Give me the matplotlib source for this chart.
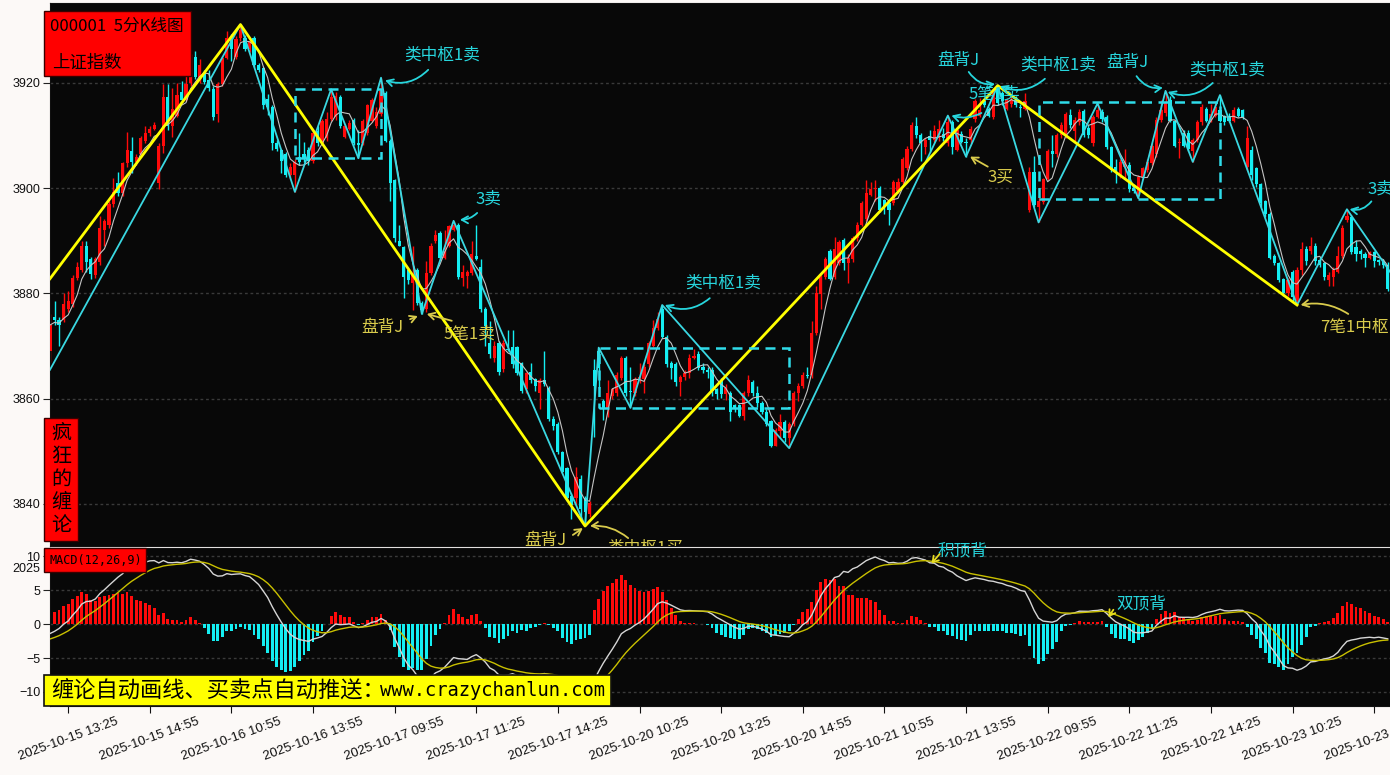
import numpy as np
import pandas as pd
import matplotlib
matplotlib.use("Agg")
import matplotlib.pyplot as plt
from matplotlib.patches import Rectangle

plt.rcParams['font.family'] = ['Noto Sans CJK SC', 'DejaVu Sans']

# ---------------- data: 5-minute bars of 000001 (index 0 is the partly hidden first bar)
opens = [
 3869, 3875.5, 3875, 3875, 3877, 3878, 3883, 3884.5, 3889, 3886.5,
 3883.5, 3886, 3892, 3893, 3897, 3901, 3899, 3904.8, 3907, 3905,
 3906.5, 3909, 3910.5, 3911.3, 3901, 3908, 3917.3, 3911.8, 3913.8, 3918.3,
 3916.8, 3920, 3925, 3921, 3922.1, 3920.6, 3918.8, 3914.1, 3919.8, 3924.8,
 3929, 3925, 3928.5, 3928.5, 3926.5, 3928.5, 3923.5, 3922.8, 3917, 3915.5,
 3908.5, 3907.3, 3906.5, 3902.5, 3902.5, 3906, 3906.5, 3907.3, 3905.1, 3910.8,
 3908.5, 3909.5, 3913.1, 3913.5, 3917.3, 3909.8, 3911.3, 3913, 3908.5, 3908.5,
 3910.5, 3912.8, 3911.8, 3914.1, 3918, 3909, 3901.5, 3890, 3888.8, 3884.5,
 3882, 3884.5, 3878.1, 3877.1, 3883.8, 3890, 3891.5, 3886.8, 3889.1, 3892.1,
 3893.1, 3883, 3883.3, 3883.8, 3887.1, 3885.1, 3877.1, 3870.5, 3867.8, 3870.5,
 3865.6, 3869.5, 3869.8, 3869.8, 3866.8, 3861.8, 3865.1, 3863.8, 3861, 3863.5,
 3862.1, 3856.1, 3855.1, 3849.8, 3846.8, 3841.5, 3841.1, 3844.8, 3841.1, 3838.1,
 3865.5, 3869, 3859.5, 3858.1, 3860.5, 3861.1, 3864, 3867.8, 3861.5, 3861.1,
 3863.5, 3863.8, 3866.5, 3870.1, 3873.5, 3877.1, 3871.8, 3866.8, 3866.5, 3863.1,
 3864.1, 3864.8, 3867.8, 3868.5, 3866, 3865.5, 3865.5, 3861.8, 3863.5, 3860.8,
 3861.1, 3858.8, 3858.8, 3856.8, 3861.1, 3863.1, 3861.1, 3859.1, 3857.5, 3855.8,
 3851.1, 3853.8, 3855.5, 3852.5, 3855.1, 3861.1, 3862.5, 3864.5, 3864.5, 3872.5,
 3879.8, 3883.1, 3888.1, 3883.1, 3885.8, 3890.1, 3885.8, 3886.5, 3890.5, 3893.1,
 3894.1, 3898.8, 3899.8, 3900.1, 3897.8, 3897.1, 3897.1, 3899.5, 3901.1, 3903.8,
 3907.5, 3911.8, 3910.1, 3907.8, 3910, 3909.1, 3909.5, 3910.3, 3908.5, 3912.5,
 3907.3, 3910.3, 3908.8, 3909.1, 3913.1, 3913.8, 3916.5, 3915.1, 3913.5, 3919.1,
 3918.1, 3915.1, 3916, 3916.8, 3915.5, 3915.1, 3895.8, 3903, 3896.5, 3897.3,
 3901.8, 3907.1, 3906.5, 3910.1, 3910, 3914, 3910.8, 3912.5, 3914.6, 3911.5,
 3908.5, 3913.5, 3914.5, 3913.5, 3907.8, 3904, 3902.5, 3904, 3904.5, 3900.1,
 3898.5, 3902.1, 3903.5, 3904.8, 3906.5, 3913, 3914.3, 3916.8, 3912.8, 3908.5,
 3910.5, 3910.5, 3907.1, 3909.1, 3912.5, 3915.1, 3912.8, 3913.8, 3914.8, 3913.8,
 3913.8, 3912.8, 3915.1, 3914.8, 3904, 3907.3, 3903.8, 3900.8, 3897.5, 3895.1,
 3887.1, 3885.8, 3882.8, 3880.1, 3884, 3878.5, 3884.5, 3888.5, 3888.1, 3889.1,
 3886.3, 3885.8, 3882.5, 3883.1, 3884.1, 3887.1, 3894, 3894.5, 3888.8, 3888.1,
 3887.5, 3886.8, 3887.8, 3886.3, 3886, 3885.5]

closes = [
 3874, 3875, 3874, 3878, 3878.6, 3883, 3885, 3889, 3886, 3883.7,
 3886.5, 3892.5, 3893.7, 3897, 3899.3, 3899, 3904.8, 3907.3, 3905, 3906,
 3909.5, 3910.5, 3911.3, 3912, 3908, 3917.3, 3911.8, 3915.1, 3917.8, 3916.8,
 3919.8, 3925, 3921.1, 3923.5, 3920.1, 3919.1, 3913.5, 3919.8, 3924.8, 3928.5,
 3926.5, 3928.3, 3930.1, 3926.5, 3927.8, 3923.5, 3922.5, 3915.8, 3915.5, 3908.5,
 3907.5, 3905.1, 3902.5, 3904.1, 3905, 3905, 3905.5, 3905.1, 3910.5, 3908.5,
 3912.8, 3913.1, 3917.3, 3917.5, 3911.8, 3911.8, 3912.3, 3908.5, 3908.2, 3912.8,
 3915.8, 3916.8, 3914.5, 3918.5, 3909, 3901, 3890.5, 3889.1, 3883.1, 3882.5,
 3883.5, 3878.1, 3876.8, 3883.8, 3889.1, 3891.1, 3886.8, 3888.1, 3892.8, 3893.1,
 3883.1, 3884, 3884, 3887.5, 3886.5, 3877.1, 3873.8, 3868.5, 3870.1, 3865.1,
 3870.5, 3869.2, 3866.5, 3864.8, 3861.5, 3864.8, 3863.5, 3862.5, 3863.5, 3862.8,
 3856.1, 3854.8, 3849.8, 3846.1, 3841.1, 3839.8, 3845.1, 3839.1, 3838.5, 3840.1,
 3862.5, 3865.8, 3858.1, 3861.1, 3861.8, 3864.5, 3867.8, 3861.1, 3861.3, 3863.8,
 3864.1, 3866.1, 3870.5, 3873.5, 3875.1, 3871.8, 3866.5, 3865.8, 3863.1, 3864.1,
 3864.8, 3867.8, 3868.1, 3865.8, 3865.5, 3865, 3861.5, 3860.8, 3860.8, 3862.1,
 3857.5, 3858.1, 3856.8, 3861.1, 3863.5, 3861.1, 3859.1, 3857.5, 3855.1, 3851.1,
 3854.1, 3855.5, 3852.5, 3855.1, 3861.1, 3862.5, 3864.5, 3864.3, 3872.5, 3880.1,
 3883.1, 3886.5, 3882.8, 3888.5, 3889.8, 3885.8, 3886.8, 3890.5, 3893.1, 3897.1,
 3899.1, 3899.8, 3900.1, 3895.8, 3896.5, 3895.8, 3901.1, 3901.1, 3905.5, 3907.5,
 3912.1, 3910.1, 3908.5, 3909.1, 3909.1, 3910.8, 3911.3, 3909.5, 3912.5, 3907.8,
 3911.1, 3908.8, 3908.5, 3911.3, 3916.5, 3914.8, 3915.8, 3913.8, 3918.1, 3916.1,
 3916.5, 3916.8, 3916.8, 3915.8, 3915.3, 3916.5, 3903, 3896.8, 3897.5, 3901.8,
 3907.1, 3906.5, 3910.1, 3912, 3914.1, 3912, 3913, 3914.5, 3910.1, 3910.1,
 3913.5, 3914.8, 3913.1, 3907.8, 3903.5, 3903.3, 3905, 3905, 3899.8, 3899.5,
 3902.1, 3903.8, 3905, 3908.1, 3913, 3914.8, 3916.2, 3912.8, 3908.1, 3908.8,
 3908.1, 3907.5, 3909.1, 3912.5, 3915.5, 3912.8, 3914.1, 3915.5, 3912.8, 3912.5,
 3912.8, 3914.8, 3913.8, 3913.5, 3909.5, 3902.5, 3900.8, 3897.1, 3895.1, 3886.8,
 3885.8, 3882.5, 3880.1, 3882.5, 3879.3, 3884.5, 3888.5, 3886.1, 3889.1, 3886.1,
 3885.5, 3883.1, 3883.5, 3884.5, 3887.1, 3892.5, 3894.8, 3887.8, 3887.5, 3887.5,
 3886.8, 3887.8, 3886.1, 3886, 3885.5, 3880.8]

highs = [
 3876, 3878.5, 3875.5, 3880, 3880.5, 3883.5, 3886, 3890, 3890, 3887,
 3887, 3894.8, 3894.1, 3897.5, 3902, 3903, 3905, 3910.6, 3909.7, 3906.5,
 3910, 3911.8, 3911.8, 3912.5, 3908.5, 3919.8, 3919.8, 3919, 3920, 3920.3,
 3923, 3925.5, 3926.1, 3924.5, 3922.5, 3922.5, 3919.5, 3920.2, 3925.2, 3929.8,
 3929.3, 3929, 3931.1, 3929.1, 3928.5, 3929, 3923.8, 3923, 3918, 3915.8,
 3909.1, 3907.5, 3906.8, 3904.8, 3905.5, 3910.5, 3908.8, 3907.8, 3911, 3911.8,
 3913.2, 3914.5, 3918.8, 3918.2, 3917.8, 3912.2, 3913, 3913.3, 3911.1, 3913.1,
 3916, 3917.2, 3915.5, 3921, 3918.5, 3909.3, 3901.8, 3893.1, 3889, 3884.5,
 3889.1, 3884.8, 3878.5, 3886.1, 3889.5, 3892.1, 3891.8, 3892.1, 3893.1, 3893.8,
 3893.3, 3885.5, 3884.5, 3890, 3893.1, 3886.5, 3877.5, 3874.8, 3871, 3871,
 3871.1, 3873.1, 3873.1, 3870.1, 3867, 3865, 3866.8, 3864, 3864, 3869.1,
 3862.5, 3856.8, 3855.5, 3850.1, 3847, 3842, 3847.1, 3845.5, 3841.5, 3840.5,
 3867.5, 3869.7, 3860, 3863.5, 3862, 3865, 3868.1, 3868.1, 3866.1, 3864.1,
 3866.8, 3866.5, 3871, 3875, 3876.5, 3877.8, 3872.1, 3867.1, 3867, 3864.5,
 3865.5, 3868.5, 3869.5, 3869, 3866.8, 3866, 3866, 3862, 3864, 3862.8,
 3861.5, 3859, 3859, 3861.5, 3864.5, 3863.5, 3862.5, 3859.5, 3858, 3856,
 3854.5, 3857.1, 3856, 3855.5, 3861.5, 3863, 3865, 3866.1, 3874.8, 3881.5,
 3883.5, 3887, 3888.5, 3890.8, 3890.1, 3890.5, 3887.5, 3891, 3893.5, 3897.5,
 3901.5, 3901.1, 3901.5, 3900.5, 3898, 3897.5, 3901.5, 3902, 3906, 3908,
 3912.5, 3913.5, 3910.5, 3909.5, 3911, 3912.1, 3913, 3911.5, 3913.8, 3913,
 3911.5, 3910.8, 3909.5, 3911.8, 3917, 3917.1, 3917, 3915.5, 3918.5, 3919.5,
 3918.5, 3917.1, 3917.5, 3917.5, 3916, 3918.1, 3904, 3906.1, 3898.5, 3902,
 3907.5, 3910.1, 3910.5, 3912.5, 3914.5, 3915, 3913.5, 3915, 3915, 3912,
 3914, 3916.1, 3915, 3914, 3908, 3905.5, 3905.5, 3907.5, 3905, 3900.5,
 3902.5, 3904, 3905.5, 3908.5, 3913.5, 3916.8, 3918.5, 3917.5, 3913, 3909.5,
 3911.1, 3911, 3909.5, 3913, 3916, 3915.5, 3916, 3916.5, 3917.7, 3914,
 3914.3, 3915.5, 3915.5, 3915.1, 3911.8, 3908, 3904, 3901, 3897.8, 3895.5,
 3887.5, 3886, 3883, 3883, 3884.5, 3885, 3889.8, 3889, 3890.8, 3889.5,
 3887, 3886, 3884, 3885, 3889.1, 3893, 3896, 3895, 3890.1, 3888.5,
 3887.8, 3888.1, 3888.1, 3886.5, 3886.5, 3886]

lows = [
 3867, 3874, 3870, 3874.5, 3876.5, 3877.5, 3882.5, 3884, 3884, 3882.8,
 3883, 3885.5, 3889, 3892.5, 3896.5, 3898.5, 3898.5, 3904, 3902.8, 3904.5,
 3906, 3908.5, 3910, 3911, 3899.8, 3906.7, 3911, 3909.8, 3913.5, 3916.5,
 3916.5, 3919.5, 3920.8, 3920, 3919.8, 3918.5, 3913, 3912.5, 3919.5, 3924.5,
 3924.1, 3924.5, 3928, 3926, 3925.8, 3923, 3922, 3915, 3914, 3907.3,
 3907, 3902.8, 3902.1, 3901.8, 3899.3, 3904.5, 3905, 3904.5, 3904.8, 3908,
 3908.3, 3909, 3912.8, 3913, 3911.5, 3909.5, 3911, 3908.2, 3905.7, 3908.2,
 3910.2, 3912.5, 3911.5, 3913.8, 3908.8, 3897.5, 3889.8, 3889, 3879.2, 3881.8,
 3876.8, 3877.8, 3876.1, 3876.5, 3883.5, 3889.5, 3886.5, 3886.5, 3888.8, 3891.8,
 3882.8, 3881.5, 3881, 3883.5, 3886.3, 3876.5, 3870, 3867.8, 3867, 3864.5,
 3865, 3869, 3865.8, 3864.5, 3861, 3861, 3863, 3861.5, 3858, 3862.5,
 3855.8, 3854.1, 3849.5, 3845.8, 3840.5, 3837.1, 3839.8, 3837.1, 3835.8, 3837.5,
 3852.8, 3862, 3856, 3856.5, 3860, 3860.5, 3863.5, 3860.5, 3858.3, 3860.5,
 3863, 3861, 3866, 3869.8, 3873, 3871.5, 3866, 3863.8, 3862.5, 3860.5,
 3863.5, 3864, 3867.5, 3865.5, 3864.8, 3864, 3860.5, 3860, 3860.2, 3859.8,
 3855.8, 3857.5, 3856.5, 3856, 3860.5, 3860.5, 3858.5, 3857, 3854.8, 3850.8,
 3851, 3852.5, 3851.8, 3850.6, 3854.8, 3859.5, 3862, 3864, 3864, 3872.1,
 3877, 3882.8, 3882.5, 3882.8, 3885.5, 3884.5, 3882, 3886, 3890, 3892.8,
 3893.8, 3898.5, 3897.5, 3895.5, 3895.1, 3893.1, 3896.8, 3899, 3900.8, 3903.5,
 3907, 3909.5, 3905.1, 3906.5, 3906.8, 3908.8, 3909, 3909, 3908, 3906.5,
 3907, 3908.5, 3906, 3908.5, 3912.5, 3913.5, 3915.5, 3913.5, 3913.1, 3915.8,
 3915.8, 3914.8, 3915.5, 3915.5, 3913.5, 3914.8, 3895.5, 3896.5, 3893.5, 3897,
 3901.5, 3904, 3906, 3909.5, 3909.5, 3911.5, 3909, 3912, 3909.8, 3909.5,
 3908, 3913.3, 3912.5, 3907.5, 3903, 3901, 3902, 3902, 3899.3, 3899,
 3898.1, 3901.8, 3903, 3904.5, 3906, 3912.5, 3913.8, 3912.5, 3907.8, 3905.8,
 3907.8, 3907, 3905, 3908.8, 3912.1, 3912.5, 3912.5, 3913.5, 3912.5, 3912,
 3912.5, 3912.5, 3913.5, 3913.1, 3903.5, 3901.5, 3900.3, 3896.5, 3894.5, 3886.5,
 3885.5, 3882.1, 3879.5, 3879.5, 3878.5, 3877.8, 3883.5, 3885.5, 3887.5, 3885.5,
 3885, 3882.5, 3881.5, 3881.5, 3883.8, 3886.8, 3893.5, 3887.5, 3886.1, 3886.5,
 3885, 3886.5, 3885, 3885.5, 3884.8, 3880.5]

# MACD(12,26,9) histogram (= 2*(DIF-DEA)) read per bar, and DEA of the first bar
macd_hist = [
 1.6, 1.8, 2.1, 2.7, 2.9, 3.7, 4.1, 4.75, 4.4, 3.6,
 3.4, 4.0, 4.1, 4.3, 4.4, 4.5, 4.4, 4.65, 4.1, 3.5,
 3.4, 3.1, 2.8, 2.3, 1.3, 1.6, 0.8, 0.6, 0.6, 0.35,
 0.6, 1.0, 0.6, 0.2, -0.6, -1.4, -2.45, -2.45, -1.9, -1.0,
 -1.0, -0.7, -0.5, -0.8, -0.9, -1.6, -2.25, -3.3, -4.2, -5.5,
 -6.3, -6.8, -7.0, -6.9, -6.3, -5.5, -4.6, -3.9, -2.6, -1.8,
 -1.1, 0.05, 1.2, 1.8, 1.3, 1.1, 1.0, 0.35, -0.15, 0.1,
 0.6, 1.0, 1.0, 1.5, 0.6, -0.9, -3.4, -4.9, -6.3, -6.8,
 -6.5, -6.7, -6.7, -5.2, -3.3, -1.6, -0.8, 0.2, 1.3, 2.2,
 1.5, 1.1, 0.8, 1.3, 1.5, 0.45, -0.65, -1.9, -2.1, -2.75,
 -2.25, -1.75, -1.1, -1.3, -0.9, -1.1, -0.65, -0.5, -0.2, 0.1,
 -0.2, -0.65, -1.1, -2.0, -2.6, -2.95, -2.35, -2.25, -2.1, -1.6,
 2.05, 3.75, 4.9, 5.6, 6.1, 6.6, 7.2, 6.5, 5.7, 5.35,
 4.9, 4.75, 4.9, 5.1, 5.4, 4.75, 3.5, 2.3, 1.3, 0.5,
 0.2, 0.2, 0.1, 0.0, -0.05, -0.15, -0.65, -1.3, -1.6, -1.9,
 -2.1, -2.25, -2.25, -1.6, -0.8, -0.65, -0.8, -1.0, -1.3, -1.9,
 -1.6, -1.45, -1.3, -1.1, -0.1, 0.8, 1.8, 2.15, 3.3, 5.0,
 6.2, 6.6, 6.5, 6.6, 5.6, 5.6, 4.25, 4.25, 3.8, 3.8,
 3.8, 3.5, 3.2, 2.05, 1.3, 0.5, 0.5, 0.2, 0.2, 0.6,
 1.2, 1.1, 0.6, 0.2, -0.5, -0.5, -1.1, -1.1, -1.6, -1.75,
 -2.25, -2.35, -2.45, -1.6, -1.0, -1.0, -1.0, -1.1, -1.0, -1.1,
 -1.1, -1.3, -1.3, -1.45, -1.7, -1.6, -3.3, -5.05, -5.9, -5.4,
 -4.45, -3.7, -2.6, -1.1, -0.3, -0.15, 0.1, 0.45, 0.35, 0.25,
 0.35, 0.35, 0.45, -0.5, -1.5, -2.1, -2.2, -2.25, -2.45, -2.75,
 -2.35, -1.85, -1.3, -0.8, 0.7, 1.5, 1.95, 1.55, 1.8, 1.1,
 0.85, 0.7, 0.5, 0.6, 1.0, 1.2, 1.2, 1.2, 1.3, 0.7,
 0.5, 0.5, 0.5, 0.35, -0.5, -1.6, -2.25, -3.6, -4.3, -5.7,
 -5.9, -6.3, -6.7, -5.9, -4.8, -4.3, -3.1, -1.85, -0.5, -0.3,
 0.1, 0.35, 0.5, 0.85, 1.55, 2.65, 3.3, 2.95, 2.55, 2.3,
 1.95, 1.65, 1.2, 1.1, 0.7, 0.35]
dea_start = -2.2

# 笔 (strokes) and 线段 (segments) vertices: bar index, price
bi_idx = [0, 42, 54, 62, 68, 73, 82, 89, 118, 121, 128, 135, 163, 198, 202, 209,
          218, 231, 240, 246, 252, 258, 275, 286, 296]
bi_price = [3865.5, 3931.1, 3899.3, 3918.8, 3905.7, 3921.0, 3876.1, 3893.8, 3835.8,
            3869.7, 3858.3, 3877.8, 3850.6, 3913.8, 3906.0, 3919.5, 3893.5, 3916.1,
            3898.1, 3918.5, 3905.0, 3917.7, 3877.8, 3896.0, 3883.5]
seg_idx = [0, 42, 118, 209, 275]
seg_price = [3882.8, 3931.1, 3835.8, 3919.5, 3877.8]

# 中枢 (pivot zones)
zs_start = [54, 121, 218]
zs_end = [73, 163, 258]
zs_low = [3905.7, 3858.3, 3898.0]
zs_high = [3918.8, 3869.7, 3916.3]

tick_idx = [4, 22, 40, 58, 76, 94, 112, 130, 148, 166, 184, 202, 220, 238, 256, 274, 292]
tick_labels = ["2025-10-15 13:25", "2025-10-15 14:55", "2025-10-16 10:55", "2025-10-16 13:55",
               "2025-10-17 09:55", "2025-10-17 11:25", "2025-10-17 14:25", "2025-10-20 10:25",
               "2025-10-20 13:25", "2025-10-20 14:55", "2025-10-21 10:55", "2025-10-21 13:55",
               "2025-10-22 09:55", "2025-10-22 11:25", "2025-10-22 14:25", "2025-10-23 10:25",
               "2025-10-23 13:25"]

# signal labels on the price chart
sig_text = ["类中枢1卖", "3卖", "盘背J", "5笔1卖", "类中枢1卖", "盘背J", "类中枢1买", "盘背J",
            "类中枢1卖", "5笔1卖", "3买", "盘背J", "类中枢1卖", "3卖", "7笔1中枢"]
sig_kind = ["c", "c", "y", "y", "c", "y", "y", "c", "c", "c", "y", "c", "c", "c", "y"]
macd_sig_text = ["积顶背", "双顶背"]

# ---------------- layout helpers (pixel geometry of the 1390x775 canvas)
W, H = 1390, 775
CYAN_TXT = '#27d6dd'
YEL_TXT = '#d9cb4c'
RED = '#ff0a0a'
CYAN = '#14eef2'
TICK_FONT = 'Liberation Sans'


def frect(x0, y0, x1, y1):
    return [x0 / W, 1 - y1 / H, (x1 - x0) / W, (y1 - y0) / H]


fig = plt.figure(figsize=(W / 100, H / 100), dpi=100, facecolor='#fcf9f7')
ax = fig.add_axes(frect(50, 3, 1390, 546), facecolor='#080808')
ax2 = fig.add_axes(frect(50, 548, 1390, 706), facecolor='#080808')

o = np.array(opens, float)
c = np.array(closes, float)
h = np.array(highs, float)
l = np.array(lows, float)
x = np.arange(len(c))
ma = pd.Series(c).rolling(5, min_periods=1).mean().values

hist = np.array(macd_hist, float)
dea = dea_start + (np.cumsum(hist) - hist[0]) / 8.0
dif = dea + hist / 2.0

# ---------------- price panel
up = c >= o
cols = np.where(up, RED, CYAN)
ax.vlines(x, l, h, colors=cols, lw=1.0, zorder=2)
body = np.maximum(np.abs(c - o), 0.15)
ax.bar(x, body, bottom=np.minimum(o, c), width=0.7, color=cols, linewidth=0, zorder=3)
ax.plot(x, ma, color='#c4c4c4', lw=0.8, zorder=4)
ax.plot(bi_idx, bi_price, color='#3ad8e2', lw=1.3, zorder=5)
ax.plot(seg_idx, seg_price, color='#ffff00', lw=2.0, zorder=6)
for a, b, lo, hi in zip(zs_start, zs_end, zs_low, zs_high):
    ax.add_patch(Rectangle((a, lo), b - a, hi - lo, fill=False, edgecolor='#2fdcea',
                           lw=1.8, ls=(0, (4, 2.6)), zorder=7))

ax.set_xlim(0, 295.5)
ax.set_ylim(3832.0, 3935.2)
ax.set_yticks([3840, 3860, 3880, 3900, 3920])
ax.grid(axis='y', color='#3a3a3a', ls=(0, (2, 2)), lw=1.0)
ax.set_xticks(tick_idx)
ax.tick_params(axis='x', labelbottom=False, length=0)
ax.tick_params(axis='y', labelsize=9, length=5, color='#222222', labelcolor='#111111', pad=2)
for sp in ax.spines.values():
    sp.set_color('#111111')

# text positions (bar index, price) and arrows (tail -> head)
sig_pos = [(86.4, 3925.2), (96.6, 3898.0), (73.2, 3873.5), (92.4, 3872.2), (148.4, 3882.0),
           (109.2, 3833.0), (131.2, 3831.6), (200.2, 3924.2), (222.3, 3923.3), (208.2, 3917.8),
           (209.5, 3902.1), (237.5, 3923.8), (259.5, 3922.5), (293.3, 3899.9), (280.0, 3873.5)]
sig_arrow = [((83.4, 3922.5), (73.9, 3920.5), -0.3), ((94.2, 3895.3), (90.4, 3894.0), -0.2),
             ((79.4, 3875.1), (81.1, 3875.7), 0.0), ((88.6, 3874.8), (83.1, 3876.1), 0.0),
             ((145.5, 3879.1), (135.6, 3877.8), -0.3), ((115.3, 3834.1), (117.5, 3835.4), 0.0),
             ((127.5, 3833.5), (119.1, 3835.8), 0.2), ((202.6, 3922.1), (208.4, 3919.8), 0.3),
             ((219.4, 3920.8), (209.5, 3919.4), -0.3), ((205.4, 3914.3), (198.8, 3913.8), -0.2),
             ((206.8, 3904.1), (202.9, 3906.0), 0.0), ((239.6, 3921.3), (245.4, 3919.1), 0.3),
             ((256.4, 3920.0), (246.5, 3918.3), -0.3), ((291.4, 3897.5), (286.6, 3896.0), -0.3),
             ((286.3, 3876.1), (275.8, 3877.8), 0.2)]
for t, k, (tx, ty), (tail, head, rad) in zip(sig_text, sig_kind, sig_pos, sig_arrow):
    col = CYAN_TXT if k == 'c' else YEL_TXT
    ha = 'left' if t == "7笔1中枢" else 'center'
    ax.text(tx, ty, t, color=col, fontsize=12, ha=ha, va='center', zorder=9, clip_on=True)
    ax.annotate('', xy=head, xytext=tail, zorder=9,
                arrowprops=dict(arrowstyle='->,head_length=0.45,head_width=0.25', color=col,
                                lw=1.3, shrinkA=0, shrinkB=0,
                                connectionstyle='arc3,rad=%s' % rad))

# ---------------- MACD panel
hcols = np.where(hist >= 0, RED, CYAN)
ax2.bar(x, hist, width=0.62, color=hcols, linewidth=0, zorder=2)
ax2.plot(x, dif, color='#d6d6d6', lw=1.0, zorder=3)
ax2.plot(x, dea, color='#c9c000', lw=1.0, zorder=3)
ax2.set_xlim(0, 295.5)
ax2.set_ylim(-12.06, 11.18)
ax2.set_yticks([-10, -5, 0, 5, 10])
ax2.grid(axis='y', color='#3a3a3a', ls=(0, (2, 2)), lw=1.0)
ax2.set_xticks(tick_idx)
ax2.set_xticklabels(tick_labels, rotation=20, ha='center', fontsize=9.5, family=TICK_FONT)
ax2.tick_params(axis='x', length=5, color='#111111', labelcolor='#111111', pad=2)
ax2.tick_params(axis='y', labelsize=9, length=5, color='#222222', labelcolor='#111111', pad=2)
for lab in ax.get_yticklabels() + ax2.get_yticklabels():
    lab.set_family(TICK_FONT)
for sp in ax2.spines.values():
    sp.set_color('#111111')

macd_sig_pos = [(201.3, 10.7), (240.6, 2.9)]
macd_arrows = [((196.2, 10.3), (194.4, 8.9)), ((234.5, 2.1), (233.4, 1.0))]
for t, (tx, ty), (tail, head) in zip(macd_sig_text, macd_sig_pos, macd_arrows):
    ax2.text(tx, ty, t, color=CYAN_TXT, fontsize=12, ha='center', va='center', zorder=9)
    ax2.annotate('', xy=head, xytext=tail, zorder=9,
                 arrowprops=dict(arrowstyle='->,head_length=0.4,head_width=0.25', color='#e6dc20',
                                 lw=1.3, shrinkA=0, shrinkB=0))

fig.text(40 / W, 1 - 569 / H, "2025", fontsize=9, ha='right', va='center', color='#111111',
         family=TICK_FONT)

# ---------------- label boxes
def box(x0, y0, x1, y1, fc):
    r = Rectangle((x0 / W, 1 - y1 / H), (x1 - x0) / W, (y1 - y0) / H, transform=fig.transFigure,
                  facecolor=fc, edgecolor='#3a0000', lw=1.0, zorder=10)
    fig.add_artist(r)


box(44, 11, 191, 76, '#ff0000')
fig.text(50 / W, 1 - 26 / H, "000001  5分K线图", fontsize=12, color='black', ha='left',
         va='center', zorder=11)
fig.text(52 / W, 1 - 63 / H, "上证指数", fontsize=12.5, color='black', ha='left', va='center',
         zorder=11)

box(44, 418, 78, 541, '#ff0000')
for k, ch in enumerate("疯狂的缠论"):
    fig.text(61.5 / W, 1 - (433 + 23 * k) / H, ch, fontsize=14.5, color='black', ha='center',
             va='center', zorder=11)

box(44, 548, 146, 572, '#ff0000')
fig.text(49 / W, 1 - 560 / H, "MACD(12,26,9)", fontsize=8.5, color='black', ha='left',
         va='center', family='DejaVu Sans Mono', zorder=11)

r = Rectangle((44 / W, 1 - 706 / H), (611 - 44) / W, (706 - 675) / H, transform=fig.transFigure,
              facecolor='#ffff00', edgecolor='#111111', lw=1.2, zorder=10)
fig.add_artist(r)
fig.text(51 / W, 1 - 691 / H, "缠论自动画线、买卖点自动推送：", fontsize=16, color='black',
         ha='left', va='center', zorder=11)
fig.text(380 / W, 1 - 691 / H, "www.crazychanlun.com", fontsize=13.5, color='black',
         ha='left', va='center', family='DejaVu Sans Mono', zorder=11)

fig.savefig("out.png", dpi=100, facecolor=fig.get_facecolor())
